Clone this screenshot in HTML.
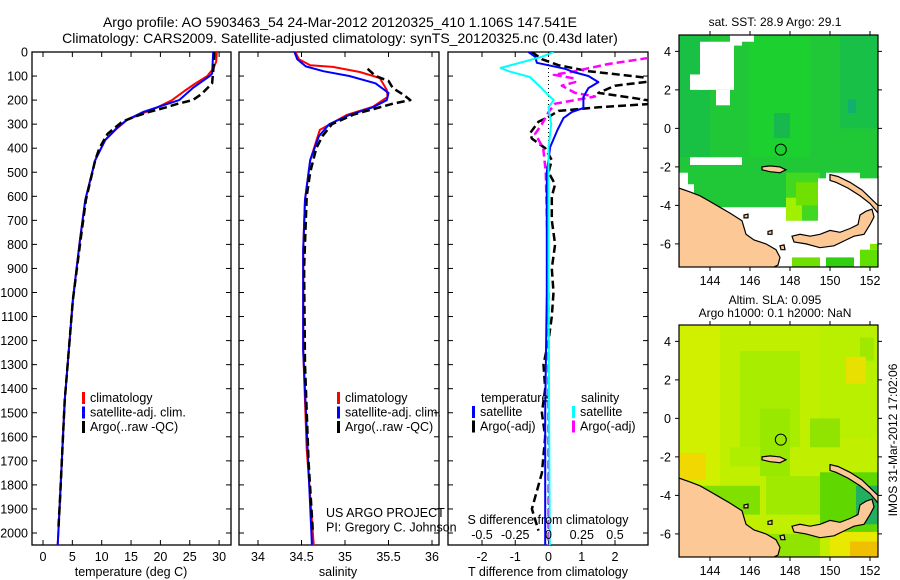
<!DOCTYPE html>
<html><head><meta charset="utf-8"><style>
html,body{margin:0;padding:0;background:#fff;width:900px;height:580px;overflow:hidden}
svg{display:block;font-family:"Liberation Sans",Arial,sans-serif}
</style></head><body>
<svg id="fig" width="900" height="580" viewBox="0 0 900 580" xmlns="http://www.w3.org/2000/svg">
<text x="340" y="27" font-size="14" text-anchor="middle">Argo profile: AO 5903463_54 24-Mar-2012 20120325_410 1.106S 147.541E</text>
<text x="340" y="43" font-size="14" text-anchor="middle">Climatology: CARS2009. Satellite-adjusted climatology: synTS_20120325.nc (0.43d later)</text>
<g id="p1"></g>
<g id="p2"></g>
<g id="p3"></g>
<g id="ov"></g>
<g id="m1"></g>
<g id="m2"></g>
<text x="775" y="26" font-size="12" text-anchor="middle">sat. SST: 28.9 Argo: 29.1</text>
<text x="775" y="304" font-size="12" text-anchor="middle">Altim. SLA: 0.095</text>
<text x="775" y="317" font-size="12" text-anchor="middle">Argo h1000: 0.1 h2000: NaN</text>
<text x="0" y="0" font-size="12" text-anchor="middle" transform="translate(897,440) rotate(-90)">IMOS 31-Mar-2012 17:02:06</text>
</svg>
<script>
// ---------- data ----------
const depthTicks=[0,100,200,300,400,500,600,700,800,900,1000,1100,1200,1300,1400,1500,1600,1700,1800,1900,2000];
const tempTicks=[0,5,10,15,20,25,30];
const salTicks=[34,34.5,35,35.5,36];
const tdTicks=[-2,-1,0,1,2];
const sdTicks=[-0.5,-0.25,0,0.25,0.5];
const tempClim=[[0,29.6],[40,29.5],[70,29.0],[90,28.3],[100,28.0],[130,26.0],[160,24.2],[200,22.0],[230,19.5],[260,16.5],[283,14.3],[320,12.5],[366,10.6],[450,8.9],[615,7.2],[780,6.3],[1030,5.1],[1450,3.7],[1860,2.9],[2050,2.5]];
const tempSat=[[0,29.0],[90,28.8],[100,28.4],[150,25.5],[200,23.2],[250,17.0],[283,14.2],[320,12.4],[366,10.6],[450,8.9],[615,7.2],[780,6.3],[1030,5.1],[1450,3.7],[1860,2.9],[2050,2.5]];
const tempArgo=[[0,29.2],[50,29.1],[130,28.8],[150,28.0],[175,27.0],[200,25.5],[215,23.0],[230,21.0],[250,18.0],[270,15.5],[290,13.5],[320,12.0],[340,11.0],[366,10.4],[400,9.6],[450,8.9],[615,7.3],[780,6.4],[1030,5.1],[1450,3.7],[1860,2.9],[1990,2.6]];
const salClim=[[0,34.43],[30,34.47],[55,34.6],[62,34.86],[83,35.17],[108,35.40],[158,35.48],[187,35.49],[228,35.32],[262,35.02],[324,34.71],[450,34.6],[615,34.54],[823,34.52],[1240,34.52],[1650,34.56],[2050,34.64]];
const salSat=[[0,34.42],[30,34.45],[60,34.55],[80,34.75],[100,35.05],[130,35.35],[170,35.50],[200,35.48],[230,35.32],[262,35.05],[300,34.82],[350,34.7],[450,34.6],[615,34.54],[823,34.52],[1240,34.52],[1650,34.57],[2050,34.62]];
const salArgo=[[70,35.26],[100,35.35],[120,35.5],[150,35.55],[180,35.68],[200,35.75],[215,35.55],[235,35.35],[260,35.1],[300,34.85],[350,34.74],[400,34.67],[500,34.6],[600,34.56],[900,34.53],[1300,34.54],[1700,34.58],[1990,34.63]];
const tDiffSat=[[0,-0.6],[20,-0.4],[45,-0.35],[70,0.5],[83,0.75],[100,1.2],[125,1.5],[150,1.2],[187,1.05],[233,1.05],[250,0.7],[275,0.45],[324,0.27],[395,0.05],[500,-0.05],[700,-0.05],[1000,-0.05],[1500,-0.1],[2050,-0.1]];
const sDiffSat=[[0,0.04],[20,-0.05],[50,-0.25],[66,-0.36],[80,-0.3],[104,-0.14],[146,-0.06],[180,0.0],[200,0.04],[230,0.0],[300,0.02],[400,0.0],[1000,0.0],[2050,0.01]];
const tDiffArgo=[[0,-0.5],[30,-0.2],[55,0.3],[80,1.2],[100,2.5],[115,3.5],[140,2.0],[170,1.5],[190,2.5],[212,3.5],[230,1.5],[245,0.3],[270,0.0],[290,-0.3],[337,-0.55],[360,-0.5],[380,-0.3],[400,-0.1],[450,0.1],[500,0.0],[550,0.2],[600,0.1],[700,0.1],[800,0.2],[900,0.1],[1000,0.15],[1100,0.1],[1200,0.0],[1300,-0.15],[1400,-0.1],[1500,-0.2],[1600,-0.1],[1750,-0.2],[1900,-0.5],[1990,-0.3]];
const sDiffArgo=[[25,0.75],[50,0.45],[80,0.2],[95,0.04],[110,0.2],[125,0.2],[140,0.1],[170,0.2],[185,0.35],[200,0.2],[215,0.05],[250,0.0],[300,-0.05],[340,-0.1],[400,-0.04],[500,-0.02],[1000,0.0],[2050,0.0]];
const lonTicks=[144,146,148,150,152];
const latTicks=[4,2,0,-2,-4,-6];
const argoPos=[147.54,-1.106];

// ---------- helpers ----------
const NS="http://www.w3.org/2000/svg";
function mk(parent,tag,attrs,text){const e=document.createElementNS(NS,tag);for(const k in attrs)e.setAttribute(k,attrs[k]);if(text!==undefined)e.textContent=text;parent.appendChild(e);return e;}
const top0=52, bot0=545;
const yD=d=>top0+d*0.2405;
const xT=t=>43+t*5.87;
const xS=s=>258+(s-34)*87;
const xDT=t=>548.5+t*33.25;
const xDS=s=>548.5+s*133;

function frame(g,x0,x1,name){
  const r=mk(g,'rect',{x:x0,y:top0,width:x1-x0,height:bot0-top0,fill:'none',stroke:'#000','stroke-width':1.3});
  
  
}
function ticksY(g,x0,x1,labels){
  depthTicks.forEach(d=>{const y=yD(d);
    mk(g,'line',{x1:x0,x2:x0+5,y1:y,y2:y,stroke:'#000'});
    mk(g,'line',{x1:x1-5,x2:x1,y1:y,y2:y,stroke:'#000'});
    if(labels){const t=mk(g,'text',{x:28,y:y+4.5,'font-size':12.5,'text-anchor':'end'},String(d));
      
      }
  });
}
function ticksX(g,ticks,fx,labelY,topTicks){
  ticks.forEach(v=>{const x=fx(v);
    mk(g,'line',{x1:x,x2:x,y1:bot0-5,y2:bot0,stroke:'#000'});
    if(topTicks)mk(g,'line',{x1:x,x2:x,y1:top0,y2:top0+5,stroke:'#000'});
    const t=mk(g,'text',{x:x,y:labelY,'font-size':12.5,'text-anchor':'middle'},String(v));
    
    
  });
}
function line(g,data,fx,color,dash,name,clip,w){
  const pts=data.map(p=>fx(p[1]).toFixed(1)+','+yD(p[0]).toFixed(1)).join(' ');
  const a={points:pts,fill:'none',stroke:color,'stroke-width':w||2,'stroke-linejoin':'round'};
  if(dash)a['stroke-dasharray']=dash;
  if(clip)a['clip-path']='url(#clip3)';
  const p=mk(g,'polyline',a);
  
  
}
function legend(g,x,y,entries){
  entries.forEach((e,i)=>{const yy=y+i*14.5;
    if(e.c){const m=mk(g,'rect',{x:x,y:yy-10,width:3,height:12,fill:e.c});
      
      }
    const t=mk(g,'text',{x:x+(e.c?8:0),y:yy,'font-size':12.5},e.t);
    
    
  });
}
const ov=document.getElementById('ov');

// ---------- panel 1 ----------
const p1=document.getElementById('p1');
frame(p1,32,231,'temperature-panel');
ticksY(p1,32,231,true);
ticksX(p1,tempTicks,xT,561,true);
line(p1,tempClim,xT,'#f00',null,'temp-climatology-line');
line(p1,tempSat,xT,'#00f',null,'temp-satellite-line');
line(p1,tempArgo,xT,'#000','8,4','temp-argo-line',false,2.5);
legend(p1,82,402,[{c:'#f00',t:'climatology'},{c:'#00f',t:'satellite-adj. clim.'},{c:'#000',t:'Argo(..raw -QC)'}]);
mk(p1,'text',{x:131,y:576,'font-size':12.5,'text-anchor':'middle'},'temperature (deg C)');

// ---------- panel 2 ----------
const p2=document.getElementById('p2');
frame(p2,239,439,'salinity-panel');
ticksY(p2,239,439,false);
ticksX(p2,salTicks,xS,561,true);
line(p2,salClim,xS,'#f00',null,'sal-climatology-line');
line(p2,salSat,xS,'#00f',null,'sal-satellite-line');
line(p2,salArgo,xS,'#000','8,4','sal-argo-line',false,2.5);
legend(ov,337,402,[{c:'#f00',t:'climatology'},{c:'#00f',t:'satellite-adj. clim.'},{c:'#000',t:'Argo(..raw -QC)'}]);
legend(ov,326,517,[{t:'US ARGO PROJECT'},{t:'PI: Gregory C. Johnson'}]);
mk(p2,'text',{x:338,y:576,'font-size':12.5,'text-anchor':'middle'},'salinity');

// ---------- panel 3 ----------
const p3=document.getElementById('p3');
const defs=mk(document.getElementById('fig'),'defs',{});
const cp=mk(defs,'clipPath',{id:'clip3'});mk(cp,'rect',{x:448,y:top0,width:200,height:bot0-top0});
frame(p3,448,648,'difference-panel');
ticksY(p3,448,648,false);
ticksX(p3,tdTicks,xDT,561,true);
mk(p3,'line',{x1:xDT(0),x2:xDT(0),y1:top0,y2:bot0,stroke:'#000','stroke-dasharray':'1,3'});
line(p3,tDiffArgo,xDT,'#000','8,4','temp-diff-argo-line',true,2.5);
line(p3,sDiffArgo,xDS,'#f0f','8,4','sal-diff-argo-line',true,2.5);
line(p3,tDiffSat,xDT,'#00f',null,'temp-diff-satellite-line',true);
line(p3,sDiffSat,xDS,'#0ff',null,'sal-diff-satellite-line',true);
legend(p3,481,402,[{t:'temperature'}]);
legend(p3,472,416,[{c:'#00f',t:'satellite'},{c:'#000',t:'Argo(-adj)'}]);
legend(p3,581,402,[{t:'salinity'}]);
legend(p3,572,416,[{c:'#0ff',t:'satellite'},{c:'#f0f',t:'Argo(-adj)'}]);
mk(p3,'text',{x:548,y:524,'font-size':12.5,'text-anchor':'middle'},'S difference from climatology');
sdTicks.forEach(v=>{const t=mk(p3,'text',{x:xDS(v),y:539,'font-size':12.5,'text-anchor':'middle'},String(v));
  
  });
mk(p3,'text',{x:548,y:576,'font-size':12.5,'text-anchor':'middle'},'T difference from climatology');

// ---------- maps ----------
function drawMap(gid,y0,y1,kind){
  const g=document.getElementById(gid);
  const X=lon=>679+(lon-142.45)*20;
  const Y=lat=>y0+(4.85-lat)*((y1-y0)/12.05);
  const P=arr=>arr.map(p=>X(p[0]).toFixed(1)+','+Y(p[1]).toFixed(1)).join(' ');
  const cid='mc'+gid;const c=mk(defs,'clipPath',{id:cid});mk(c,'rect',{x:679,y:y0,width:199,height:y1-y0});
  const inner=mk(g,'g',{'clip-path':'url(#'+cid+')'});
  const R=(l0,l1,a0,a1,col)=>mk(inner,'rect',{x:X(l0),y:Y(a1),width:X(l1)-X(l0),height:Y(a0)-Y(a1),fill:col});
  if(kind==='sst'){
    R(142.45,152.4,-7.2,4.85,'#20c838');
    R(142.45,144,-1.5,4.85,'#18c044');
    R(146,149,-1.5,4.85,'#1cd030');
    R(150.5,152.4,0,4.85,'#18c048');
    R(147.2,148,-0.5,0.8,'#18b850');
    R(150.9,151.3,0.8,1.5,'#10b070');
    R(147.8,149.5,-4.8,-2.3,'#40d820');
    R(147.8,148.6,-4.8,-3.6,'#a0f000');
    R(148.3,149.5,-4.0,-2.8,'#70e000');
    R(143.5,145.2,2.0,4.5,'#fff');
    R(143.0,143.8,2.0,2.8,'#fff');
    R(144.3,145.0,1.2,2.0,'#fff');
    R(145.2,146.2,4.5,4.85,'#fff');
    R(145.0,145.6,4.3,4.85,'#fff');
    R(143.0,145.6,-1.9,-1.5,'#fff');
    mk(inner,'polygon',{points:P([[142.45,-2.3],[142.9,-2.3],[142.9,-2.9],[143.2,-2.9],[143.2,-4.1],[147.8,-4.1],[147.8,-4.8],[149.4,-4.8],[149.4,-2.6],[149.8,-2.6],[149.8,-2.3],[151.5,-2.3],[151.5,-2.6],[152.4,-2.6],[152.4,-7.2],[142.45,-7.2]]),fill:'#fff'});
    R(148.1,149.5,-7.2,-6.7,'#70e000');
    R(149.8,151.2,-7.2,-6.7,'#30d010');
    R(151.5,152.4,-7.2,-6.3,'#60e000');
    R(152.0,152.4,-6.3,-6.0,'#80e800');
  } else {
    R(142.45,152.4,-7.2,4.85,'#c0f000');
    R(142.45,144.5,-7.2,4.85,'#d0f000');
    R(145.5,148.5,-1.5,3.5,'#a8ec00');
    R(146.5,148,-3,0.5,'#98e800');
    R(149.5,152.4,-1,4.85,'#b8f000');
    R(149,150.5,-1.5,0,'#90e400');
    R(151.5,152.2,3.0,4.2,'#a0e800');
    R(142.45,143.8,-3.2,-1.8,'#f0d800');
    R(150.8,151.8,1.8,3.2,'#e8e000');
    R(143.5,146.5,-5,-3.5,'#80e000');
    R(146.8,149.5,-5,-3,'#a0ea00');
    R(149.5,152.4,-6,-2.8,'#60d800');
    R(151.3,152.4,-5.5,-3.5,'#20b060');
    R(146.5,149.5,-7.2,-6.0,'#90e400');
    R(150,152.4,-7.2,-5.9,'#e8e800');
    R(151,152.4,-7.2,-6.4,'#f0c000');
    R(145.0,146.5,-2.5,-1.5,'#b0ee00');
  }
  const land='#fcc896';
  [[[142.45,-3.1],[143,-3.3],[143.5,-3.5],[144,-3.8],[144.5,-4.1],[145,-4.4],[145.6,-4.8],[145.8,-5.5],[146.2,-5.8],[146.8,-6.0],[147.3,-6.3],[147.5,-6.7],[147.4,-7.1],[147.0,-7.3],[142.45,-7.3]],
   [[148.1,-5.6],[148.5,-5.5],[149,-5.6],[149.5,-5.5],[150,-5.3],[150.5,-5.4],[151,-5.2],[151.4,-5.0],[151.5,-4.5],[151.8,-4.3],[152.1,-4.2],[152.2,-4.6],[152,-5],[151.7,-5.5],[151.2,-5.6],[150.8,-5.8],[150.2,-6.1],[149.5,-6.2],[148.8,-6.0],[148.2,-5.9]],
   [[150,-2.4],[150.4,-2.5],[151,-2.8],[151.6,-3.2],[152.0,-3.6],[152.4,-4.0],[152.4,-4.4],[152.0,-3.9],[151.5,-3.5],[150.9,-3.1],[150.3,-2.8],[150,-2.7]],
   [[146.6,-2.0],[147.0,-1.95],[147.5,-2.0],[147.8,-2.15],[147.5,-2.3],[147.0,-2.25],[146.6,-2.15]],
   [[147.5,-6.1],[147.7,-6.05],[147.75,-6.3],[147.55,-6.3]],[[146.9,-5.35],[147.1,-5.3],[147.1,-5.5],[146.9,-5.5]],[[145.7,-4.5],[145.9,-4.45],[145.9,-4.65],[145.7,-4.65]]
  ].forEach(poly=>{const p=mk(inner,'polygon',{points:P(poly),fill:land,stroke:'#000','stroke-width':1.2});
    
    });
  mk(inner,'circle',{cx:X(argoPos[0]),cy:Y(argoPos[1]),r:5.5,fill:'none',stroke:'#000','stroke-width':1});
  mk(g,'rect',{x:679,y:y0,width:199,height:y1-y0,fill:'none',stroke:'#000','stroke-width':1.2});
  lonTicks.forEach(l=>{const x=X(l);mk(g,'line',{x1:x,x2:x,y1:y1,y2:y1+4,stroke:'#000'});mk(g,'line',{x1:x,x2:x,y1:y0-4,y2:y0,stroke:'#000'});
    const t=mk(g,'text',{x:x,y:y1+18,'font-size':12.5,'text-anchor':'middle'},String(l));
    
    });
  latTicks.forEach(l=>{const y=Y(l);mk(g,'line',{x1:675,x2:679,y1:y,y2:y,stroke:'#000'});mk(g,'line',{x1:878,x2:882,y1:y,y2:y,stroke:'#000'});
    const t=mk(g,'text',{x:671,y:y+4.5,'font-size':12.5,'text-anchor':'end'},String(l));
    
    });
}
drawMap('m1',35,267,'sst');
drawMap('m2',325,557,'sla');
</script>
</body></html>
